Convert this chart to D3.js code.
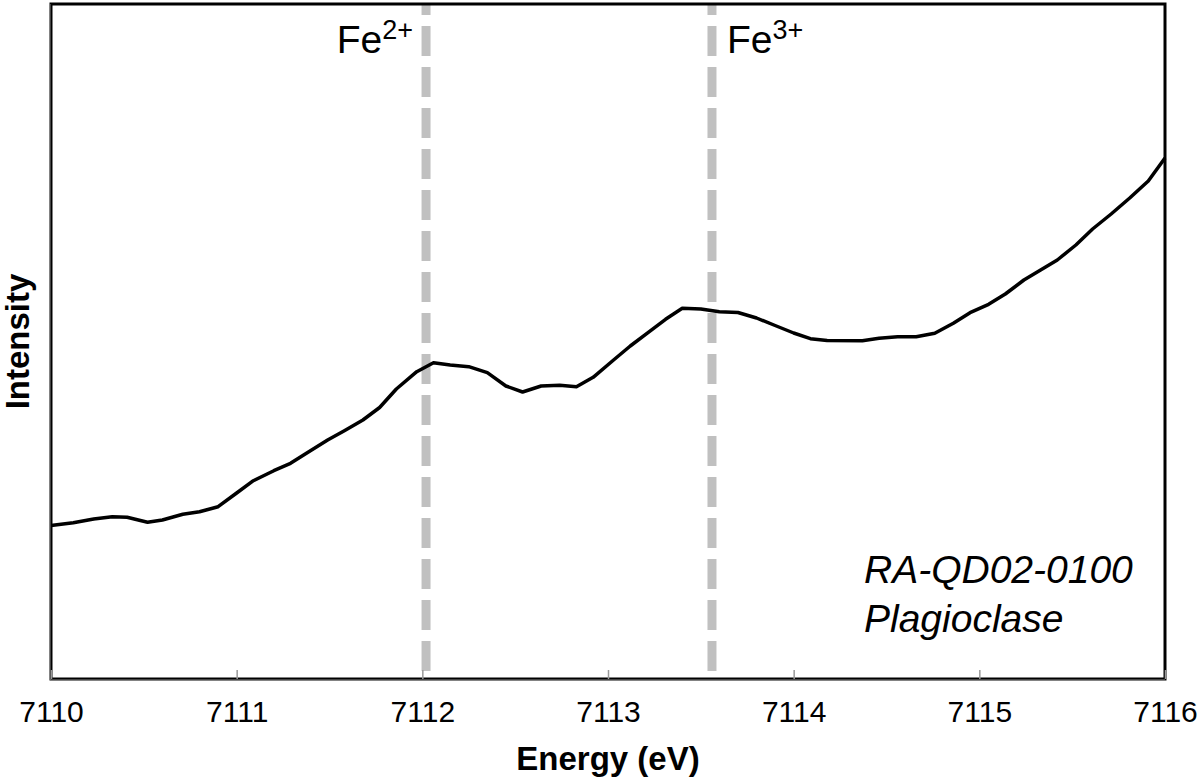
<!DOCTYPE html>
<html><head><meta charset="utf-8">
<script src="https://cdnjs.cloudflare.com/ajax/libs/d3/7.8.5/d3.min.js"></script>
<style>body{margin:0;background:#fff}svg{display:block;font-family:"Liberation Sans",Arial,sans-serif}</style>
</head><body>
<script>
const energy = [7110.00,7110.12,7110.23,7110.33,7110.41,7110.52,7110.60,7110.71,7110.80,7110.90,
7111.00,7111.09,7111.20,7111.29,7111.38,7111.49,7111.58,7111.68,7111.77,7111.86,
7111.97,7112.06,7112.15,7112.25,7112.35,7112.45,7112.54,7112.64,7112.74,7112.83,
7112.92,7113.03,7113.12,7113.21,7113.31,7113.40,7113.50,7113.60,7113.70,7113.80,
7113.90,7114.00,7114.09,7114.18,7114.37,7114.46,7114.56,7114.66,7114.76,7114.86,
7114.95,7115.05,7115.14,7115.24,7115.33,7115.42,7115.52,7115.61,7115.71,7115.81,
7115.91,7116.00];
const intensity = [1.535,1.563,1.600,1.623,1.617,1.567,1.590,1.647,1.673,1.723,
1.860,1.983,2.083,2.157,2.263,2.390,2.483,2.590,2.715,2.900,
3.073,3.163,3.140,3.123,3.063,2.930,2.870,2.930,2.937,2.923,
3.017,3.190,3.330,3.457,3.597,3.707,3.700,3.673,3.665,3.610,
3.535,3.460,3.403,3.385,3.383,3.407,3.423,3.423,3.457,3.557,
3.663,3.747,3.850,3.990,4.090,4.190,4.340,4.500,4.650,4.810,
4.980,5.210];
const xTicks = [7110,7111,7112,7113,7114,7115,7116];
const markerEnergy = [7112.02, 7113.56];
const markerLabel = ["2+", "3+"];
const sampleLines = ["RA-QD02-0100", "Plagioclase"];

const W = 1200, H = 779;
const m = {l:51, r:35, t:4, b:100};
const svg = d3.select("body").append("svg").attr("width", W).attr("height", H);
const x = d3.scaleLinear().domain([7110, 7116]).range([m.l, W - m.r]);
const y = d3.scaleLinear().domain([0, 6.75]).range([H - m.b, m.t]);
const x0 = x.range()[0], x1 = x.range()[1], y0 = y.range()[0], y1 = y.range()[1];

// marker dashed lines
svg.append("g").selectAll("line").data(markerEnergy).join("line")
  .attr("x1", d => x(d)).attr("x2", d => x(d)).attr("y1", y1).attr("y2", y0)
  .attr("stroke", "#c0c0c0").attr("stroke-width", 9)
  .attr("stroke-dasharray", "30,11").attr("stroke-dashoffset", 19);

// data line
svg.append("path").datum(energy.map((e, i) => [e, intensity[i]]))
  .attr("fill", "none").attr("stroke", "#000").attr("stroke-width", 3.5)
  .attr("stroke-linejoin", "round")
  .attr("d", d3.line().x(d => x(d[0])).y(d => y(d[1])));

// frame
svg.append("rect").attr("x", x0).attr("y", y1).attr("width", x1 - x0).attr("height", y0 - y1)
  .attr("fill", "none").attr("stroke", "#000").attr("stroke-width", 3);
svg.append("line").attr("x1", x0 - 1).attr("x2", x0 - 1).attr("y1", y1).attr("y2", y0 + 1)
  .attr("stroke", "#888").attr("stroke-width", 1);
svg.append("line").attr("x1", x0 - 1).attr("x2", x1).attr("y1", y0 + 1).attr("y2", y0 + 1)
  .attr("stroke", "#888").attr("stroke-width", 1);

// x axis
const ax = svg.append("g").attr("transform", `translate(0,${y0})`)
  .call(d3.axisBottom(x).tickValues(xTicks).tickFormat(d3.format("d")).tickSizeInner(-9).tickSizeOuter(0).tickPadding(22));
ax.select(".domain").remove();
ax.selectAll(".tick line").attr("stroke", "#999").attr("stroke-width", 1.5);
ax.selectAll(".tick text").attr("font-size", 30).attr("fill", "#000")
  .attr("font-family", "Liberation Sans, Arial, sans-serif");

// axis titles
svg.append("text").attr("x", (x0 + x1) / 2).attr("y", 770).attr("text-anchor", "middle")
  .attr("font-size", 33).attr("font-weight", "bold").text("Energy (eV)");
svg.append("text").attr("transform", `translate(29,${(y0 + y1) / 2}) rotate(-90)`)
  .attr("text-anchor", "middle").attr("font-size", 33).attr("font-weight", "bold").text("Intensity");

// marker labels
const lbl = svg.append("g").selectAll("text").data(markerEnergy).join("text")
  .attr("x", (d, i) => i === 0 ? x(d) - 13 : x(d) + 15)
  .attr("y", 53).attr("text-anchor", (d, i) => i === 0 ? "end" : "start")
  .attr("font-size", 39).attr("fill", "#000");
lbl.append("tspan").text("Fe");
lbl.append("tspan").attr("font-size", 27).attr("dy", -14).text((d, i) => markerLabel[i]);

// sample annotation
svg.append("g").selectAll("text").data(sampleLines).join("text")
  .attr("x", 864).attr("y", (d, i) => 583 + i * 49)
  .attr("font-size", 39).attr("font-style", "italic").text(d => d);
</script>
</body></html>
